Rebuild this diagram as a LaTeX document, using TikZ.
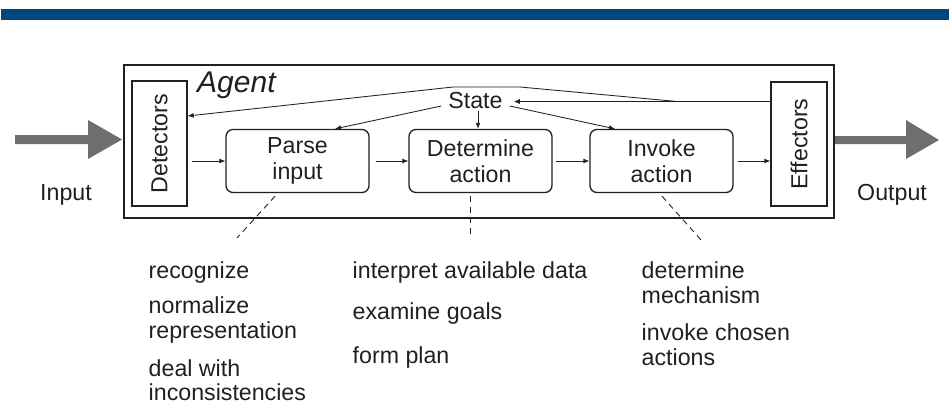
\documentclass[tikz,border=0pt]{standalone}
\usepackage{fontspec}
\setmainfont{Liberation Sans}
\usepackage{graphicx}
\usetikzlibrary{arrows.meta,calc}
\definecolor{ink}{RGB}{35,31,32}
\definecolor{band}{RGB}{0,70,122}
\definecolor{blockgray}{RGB}{109,110,112}
\begin{document}
\begin{tikzpicture}[x=1pt,y=-1pt,
  txt/.style={font=\fontsize{23.2}{26}\selectfont, text=ink},
  frame/.style={draw=ink, line width=1.3pt, inner sep=0pt},
  stage/.style={frame, rounded corners=7pt, minimum width=143pt, minimum height=63pt, align=center, txt},
  flow/.style={draw=ink, line width=0.85pt, -{Latex[length=6pt,width=5pt]}},
  lead/.style={draw=ink, line width=0.9pt, dash pattern=on 6pt off 4.5pt},
  item/.style={txt, anchor=base west, inner sep=0pt}]
\useasboundingbox (0,0) rectangle (949,404);
% header band
\fill[band] (1,9) rectangle (949,20);

% agent frame and its parts
\node[frame, minimum width=710pt, minimum height=153pt] (agent) at (479,141.5) {};
\node[item, font=\fontsize{30}{32}\selectfont\itshape] (agentlabel) at (197,92) {Agent};
\node[frame, minimum width=55pt, minimum height=125pt, txt] (det) at (159.5,143.5) {\rotatebox{90}{Detectors}};
\node[frame, minimum width=56pt, minimum height=124pt, txt] (eff) at (799,144) {\rotatebox{90}{Effectors}};
\node[stage] (parse) at (297.5,161) {Parse\\input};
\node[stage] (detm) at (480.5,161) {Determine\\action};
\node[stage] (inv) at (661.5,161) {Invoke\\action};
\node[txt, inner sep=2pt] (state) at (475.5,101) {State};

% input / output block arrows
\fill[blockgray] (15,135) -- (88,135) -- (88,120) -- (122,139.5) -- (88,159) -- (88,144) -- (15,144) -- cycle;
\fill[blockgray] (835,136) -- (906,136) -- (906,120) -- (939,140) -- (906,159) -- (906,144) -- (835,144) -- cycle;
\node[item] (inlabel) at (40,200) {Input};
\node[item] (outlabel) at (857,200) {Output};

% main processing chain
\draw[flow, shorten <=4pt] (det.east |- parse.west) -- (parse.west);
\draw[flow, shorten <=6pt] (parse.east) -- (detm.west);
\draw[flow, shorten <=3pt] (detm.east) -- (inv.west);
\draw[flow, shorten <=4pt] (inv.east) -- (eff.west |- inv.east);

% state links
\draw[flow] ($(state.west)+(-5,5)$) -- ($(parse.north)+(37.5,0)$);
\draw[flow] ($(state.south)+(2.5,0)$) -- ($(detm.north)+(-2.5,0)$);
\draw[flow] ($(state.east)+(5,5)$) -- ($(inv.north)+(-46.5,0)$);

% feedback from effectors
\coordinate (fbA) at (677,101.5);
\coordinate (fbB) at (520,87);
\coordinate (fbC) at (453,87);
\coordinate (fbD) at (190,116);
\draw[flow] (eff.west |- fbA) -- (fbA) -- (fbB) -- (fbC) -- (det.east |- fbD);
\draw[flow] (fbA) -- ($(state.east)+(9,0.5)$);

% leaders to the task lists
\coordinate (ldP) at (237,238);
\coordinate (ldD) at (470.5,238);
\coordinate (ldI) at (701,240);
\draw[lead] ($(parse.south)+(-22.5,3)$) -- (ldP);
\draw[lead] ($(detm.south)+(-10,3)$) -- (ldD);
\draw[lead] ($(inv.south)+(0.5,3)$) -- (ldI);

% task lists
\node[item] (p1) at (148.5,278) {recognize};
\node[item] (p2) at (148.5,313) {normalize};
\node[item] (p3) at (148.5,338) {representation};
\node[item] (p4) at (148.5,376) {deal with};
\node[item] (p5) at (148.5,400) {inconsistencies};
\node[item] (d1) at (352.5,278) {interpret available data};
\node[item] (d2) at (352.5,319) {examine goals};
\node[item] (d3) at (352.5,363) {form plan};
\node[item] (i1) at (641.5,278) {determine};
\node[item] (i2) at (641.5,303) {mechanism};
\node[item] (i3) at (641.5,340) {invoke chosen};
\node[item] (i4) at (641.5,365) {actions};
\end{tikzpicture}
\end{document}
